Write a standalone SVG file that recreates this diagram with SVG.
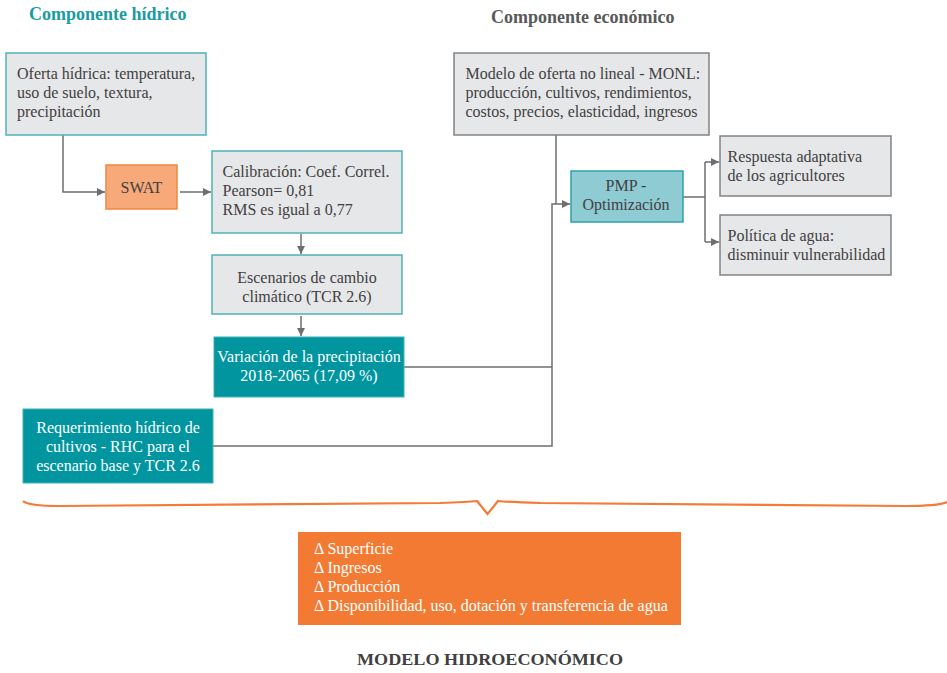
<svg xmlns="http://www.w3.org/2000/svg" width="947" height="673" viewBox="0 0 947 673">
<style>
text{font-family:"Liberation Serif","Times New Roman",serif;font-size:16px;fill:#414042}
.title{font-weight:bold;font-size:18px}
.wt{fill:#ffffff}
.gbox{fill:#e6e7e8;stroke:#4fb3ba;stroke-width:1.5}
.gbox2{fill:#e6e7e8;stroke:#808285;stroke-width:1.5}
.dark{fill:#00959f;stroke:#3fb1b8;stroke-width:1}
.conn{fill:none;stroke:#6d6e71;stroke-width:1.5}
.c{text-anchor:middle}
</style>
<defs>
<marker id="ah" markerUnits="userSpaceOnUse" markerWidth="9" markerHeight="9" refX="8" refY="4.5" orient="auto">
<path d="M0,0.5 L8,4.5 L0,8.5 z" fill="#6d6e71"/>
</marker>
</defs>
<rect width="947" height="673" fill="#ffffff"/>
<text class="title" x="29" y="20" style="fill:#1a9ba1">Componente hídrico</text>
<text class="title" x="491" y="23" style="fill:#58595b">Componente económico</text>

<g id="connectors">
<path class="conn" d="M63,135 V192 H105" marker-end="url(#ah)"/>
<path class="conn" d="M180,192 H211" marker-end="url(#ah)"/>
<path class="conn" d="M301,234 V254" marker-end="url(#ah)"/>
<path class="conn" d="M301,316 V336" marker-end="url(#ah)"/>
<path class="conn" d="M404,367 H552"/>
<path class="conn" d="M213,446 H552 V204 H570" marker-end="url(#ah)"/>
<path class="conn" d="M556,135 V204"/>
<path class="conn" d="M683,197 H705"/>
<path class="conn" d="M705,162 V242"/>
<path class="conn" d="M705,162 H719" marker-end="url(#ah)"/>
<path class="conn" d="M705,242 H719" marker-end="url(#ah)"/>
</g>

<g id="oferta">
<rect class="gbox" x="6" y="53" width="200" height="82"/>
<text x="17" y="79">Oferta hídrica: temperatura,</text>
<text x="17" y="98">uso de suelo, textura,</text>
<text x="17" y="117">precipitación</text>
</g>

<g id="swat">
<rect x="106" y="165" width="71" height="44" fill="#f7a97a" stroke="#f1873f" stroke-width="1.5"/>
<text class="c" x="141.5" y="193">SWAT</text>
</g>

<g id="calibracion">
<rect class="gbox" x="212" y="151" width="190" height="82"/>
<text x="222.5" y="177">Calibración: Coef. Correl.</text>
<text x="222.5" y="196">Pearson= 0,81</text>
<text x="222.5" y="215">RMS es igual a 0,77</text>
</g>

<g id="escenarios">
<rect class="gbox" x="212" y="255" width="190" height="59"/>
<text class="c" x="307" y="283">Escenarios de cambio</text>
<text class="c" x="307" y="302">climático (TCR 2.6)</text>
</g>

<g id="variacion">
<rect class="dark" x="214" y="337" width="190" height="60"/>
<text class="c wt" x="309" y="362">Variación de la precipitación</text>
<text class="c wt" x="309" y="381">2018-2065 (17,09 %)</text>
</g>

<g id="rhc">
<rect class="dark" x="23" y="409" width="190" height="74"/>
<text class="c wt" x="118" y="433">Requerimiento hídrico de</text>
<text class="c wt" x="118" y="452">cultivos - RHC para el</text>
<text class="c wt" x="118" y="471">escenario base y TCR 2.6</text>
</g>

<g id="monl">
<rect class="gbox2" x="454" y="53" width="255" height="82"/>
<text x="465.5" y="79">Modelo de oferta no lineal - MONL:</text>
<text x="465.5" y="98">producción, cultivos, rendimientos,</text>
<text x="465.5" y="117">costos, precios, elasticidad, ingresos</text>
</g>

<g id="pmp">
<rect x="571" y="171" width="112" height="51" fill="#8ecbd3" stroke="#2ba3aa" stroke-width="1.5"/>
<text class="c" x="626" y="191">PMP -</text>
<text class="c" x="626" y="210">Optimización</text>
</g>

<g id="respuesta">
<rect class="gbox2" x="720" y="136" width="171" height="60"/>
<text x="727.5" y="162">Respuesta adaptativa</text>
<text x="727.5" y="181">de los agricultores</text>
</g>

<g id="politica">
<rect class="gbox2" x="720" y="215" width="171" height="60"/>
<text x="727.5" y="241">Política de agua:</text>
<text x="727.5" y="260">disminuir vulnerabilidad</text>
</g>

<g id="brace">
<path d="M23,501 Q28,506 60,506 L440,503 Q468,502 477,501 L487.5,514 L498,501 Q508,502 540,503 L905,506 Q938,506 947,502" fill="none" stroke="#f47b35" stroke-width="2.2" stroke-linejoin="miter"/>
</g>

<g id="resultados">
<rect x="298" y="532" width="383" height="93" fill="#f37a33"/>
<text class="wt" x="314" y="554">Δ Superficie</text>
<text class="wt" x="314" y="573">Δ Ingresos</text>
<text class="wt" x="314" y="592">Δ Producción</text>
<text class="wt" x="314" y="611">Δ Disponibilidad, uso, dotación y transferencia de agua</text>
</g>

<text x="357" y="665" textLength="266" lengthAdjust="spacingAndGlyphs" style="font-weight:bold;font-size:17.5px;fill:#404041">MODELO HIDROECONÓMICO</text>
</svg>
